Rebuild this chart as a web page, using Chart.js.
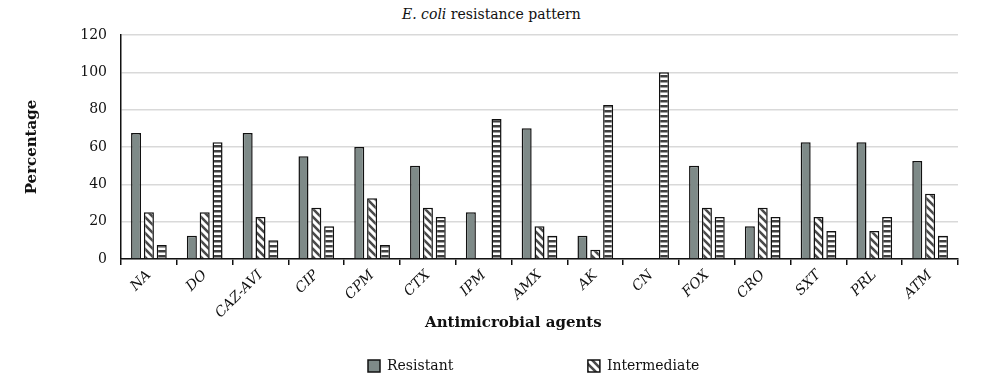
<!DOCTYPE html>
<html>
<head>
<meta charset="utf-8">
<script src="https://cdn.jsdelivr.net/npm/chart.js@4.4.1/dist/chart.umd.min.js"></script>
<style>
  html, body { margin: 0; padding: 0; background: #fff; }
  #wrap { position: relative; width: 1000px; height: 385px; }
  #title { position: absolute; top: 6px; left: 402px; font: 14px "DejaVu Serif"; color: #111; white-space: nowrap; }
  canvas { position: absolute; left: 0; top: 0; }
</style>
</head>
<body>
<div id="wrap">
  <div id="title"><i>E. coli</i> resistance pattern</div>
  <canvas id="chart" width="1000" height="385"></canvas>
</div>
<script>
// data
const agents = ['NA', 'DO', 'CAZ-AVI', 'CIP', 'CPM', 'CTX', 'IPM', 'AMX', 'AK', 'CN', 'FOX', 'CRO', 'SXT', 'PRL', 'ATM'];
const resistant    = [67.5, 12.5, 67.5, 55, 60, 50, 25, 70, 12.5, 0, 50, 17.5, 62.5, 62.5, 52.5];
const intermediate = [25, 25, 22.5, 27.5, 32.5, 27.5, 0, 17.5, 5, 0, 27.5, 27.5, 22.5, 15, 35];
const susceptible  = [7.5, 62.5, 10, 17.5, 7.5, 22.5, 75, 12.5, 82.5, 100, 22.5, 22.5, 15, 22.5, 12.5];
const yTicks = [0, 20, 40, 60, 80, 100, 120];

const fam = '"DejaVu Serif", serif';

// fill patterns
function diagPattern() {
  const c = document.createElement('canvas');
  c.width = 8; c.height = 8;
  const g = c.getContext('2d');
  g.fillStyle = '#fff';
  g.fillRect(0, 0, 8, 8);
  g.strokeStyle = '#4a4a4a';
  g.lineWidth = 2.6;
  g.beginPath();
  g.moveTo(-2, -2); g.lineTo(10, 10);
  g.moveTo(-10, -2); g.lineTo(2, 10);
  g.moveTo(6, -2); g.lineTo(18, 10);
  g.stroke();
  return g.createPattern(c, 'repeat');
}
function hPattern() {
  const c = document.createElement('canvas');
  c.width = 5; c.height = 5;
  const g = c.getContext('2d');
  g.fillStyle = '#fff';
  g.fillRect(0, 0, 5, 5);
  g.fillStyle = '#404040';
  g.fillRect(0, 0, 5, 2.5);
  return g.createPattern(c, 'repeat');
}

// pad the first legend text so the second item sits further right
const mctx = document.createElement('canvas').getContext('2d');
mctx.font = '14px ' + fam;
let firstLabel = 'Resistant';
while (12 + 7 + mctx.measureText(firstLabel + ' ').width <= 213) firstLabel += ' ';

const legendShift = {
  id: 'legendShift',
  afterLayout(chart) {
    const lg = chart.legend;
    if (!lg || !lg.lineWidths) return;
    const pad = lg.options.labels.padding;
    const cur = (lg.left + pad + lg.right - lg.lineWidths[0]) / 2;
    const dx = 368 - cur;
    lg.left += dx;
    lg.right += dx;
  }
};

const ctx = document.getElementById('chart').getContext('2d');
new Chart(ctx, {
  type: 'bar',
  data: {
    labels: agents,
    datasets: [
      {
        label: 'Resistant',
        data: resistant,
        backgroundColor: '#7e8a88',
        borderColor: '#111',
        borderWidth: 1.5
      },
      {
        label: 'Intermediate',
        data: intermediate,
        backgroundColor: diagPattern(),
        borderColor: '#111',
        borderWidth: 1.5
      },
      {
        label: 'Susceptible',
        data: susceptible,
        backgroundColor: hPattern(),
        borderColor: '#111',
        borderWidth: 1.5
      }
    ]
  },
  options: {
    responsive: false,
    animation: false,
    categoryPercentage: 0.69,
    barPercentage: 0.78,
    layout: { padding: { left: 10, right: 42, top: 35, bottom: 2 } },
    plugins: {
      tooltip: { enabled: false },
      legend: {
        position: 'bottom',
        labels: {
          boxWidth: 12,
          boxHeight: 12,
          padding: 10,
          color: '#111',
          font: { family: fam, size: 14 },
          generateLabels(chart) {
            const items = Chart.defaults.plugins.legend.labels.generateLabels(chart)
              .filter(it => it.datasetIndex < 2);
            items[0].text = firstLabel;
            return items;
          }
        }
      }
    },
    scales: {
      x: {
        grid: { drawOnChartArea: false, drawTicks: true, tickLength: 6, color: '#111', lineWidth: 1.5 },
        border: { color: '#111', width: 1.5 },
        ticks: {
          minRotation: 45,
          maxRotation: 45,
          padding: 2,
          color: '#111',
          font: { family: fam, size: 14, style: 'italic' }
        },
        title: {
          display: true,
          text: 'Antimicrobial agents          ',
          color: '#111',
          font: { family: fam, size: 15, weight: 'bold' },
          padding: { top: 0, bottom: 17 }
        },
        afterFit(s) { s.height = 90; }
      },
      y: {
        min: 0,
        max: 120,
        afterBuildTicks(s) { s.ticks = yTicks.map(v => ({ value: v })); },
        ticks: { padding: 14, color: '#111', font: { family: fam, size: 14 } },
        grid: { color: '#d9d9d9', lineWidth: 1.5, drawTicks: false },
        border: { color: '#111', width: 1.5 },
        title: {
          display: true,
          text: 'Percentage',
          color: '#111',
          font: { family: fam, size: 15, weight: 'bold' },
          padding: { top: 13, bottom: 0 }
        },
        afterFit(s) { s.width = 111; }
      }
    }
  },
  plugins: [legendShift]
});
</script>
</body>
</html>
